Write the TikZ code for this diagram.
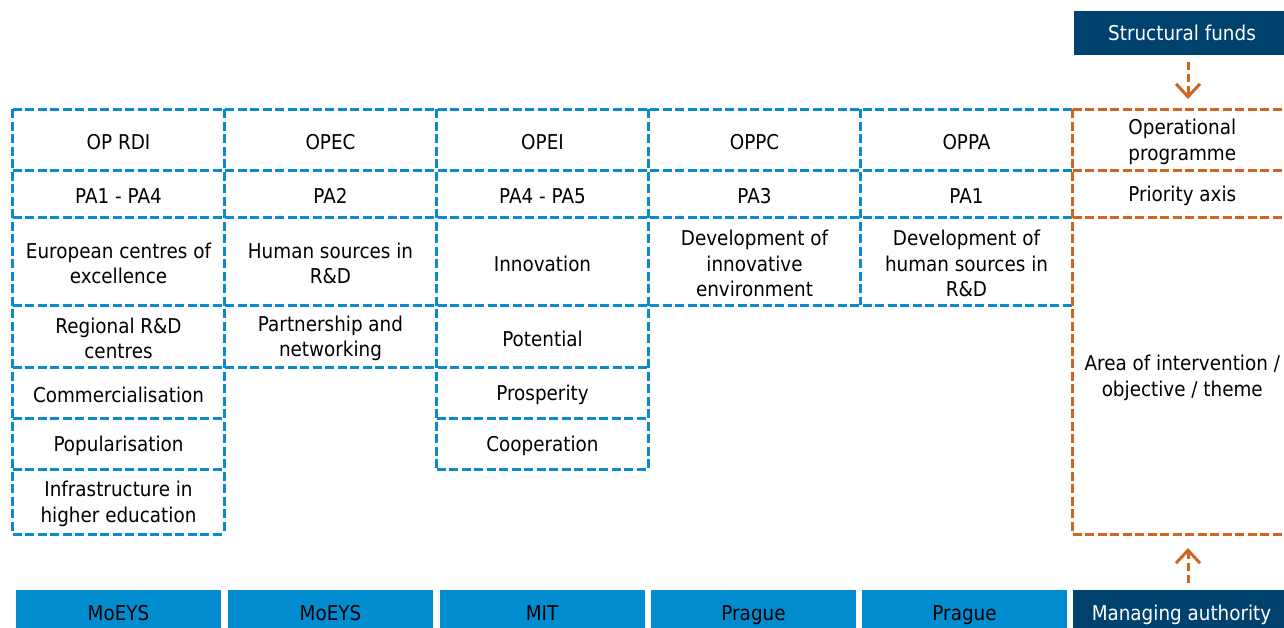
\documentclass[tikz,border=0pt]{standalone}
\usepackage{fontspec}
\setmainfont{DejaVu Sans}[FakeStretch=0.9]
\usetikzlibrary{arrows.meta}
\definecolor{bluedash}{HTML}{0A8AD0}
\definecolor{orng}{HTML}{D0651F}
\definecolor{lightfill}{HTML}{008CCE}
\definecolor{darkfill}{HTML}{00426E}
\tikzset{
  cell/.style={minimum width=212pt, inner sep=0pt, outer sep=0pt, align=center,
    font=\fontsize{20.4pt}{25.5pt}\selectfont, text=black},
  ocell/.style={cell, minimum width=219.5pt},
  gridshift/.style={transform canvas={yshift=2.5pt}},
  bline/.style={draw=bluedash, line width=3pt, dash pattern=on 9pt off 3.5pt, gridshift},
  oline/.style={bline, draw=orng},
  agency/.style={fill=lightfill, minimum width=205pt, minimum height=50pt,
    inner sep=0pt, outer sep=0pt, text height=15pt, text depth=5pt,
    font=\fontsize{20.4pt}{25.5pt}\selectfont, text=black},
  darkbox/.style={agency, fill=darkfill, text=white},
  oarrow/.style={draw=orng, line width=3pt, dash pattern=on 8pt off 4pt,
    -{Straight Barb[length=13pt,width=24pt,line width=3pt]}}
}
\begin{document}
\begin{tikzpicture}[x=1pt,y=-1pt]
\useasboundingbox (0,0) rectangle (1284,627);
% column 1 (text centres are 2.5px below the cell centres; the grid is shifted back up)
\node[cell, minimum height=61pt] (a1) at (118.5,142) {OP RDI};
\node[cell, minimum height=47pt] (a2) at (118.5,196) {PA1 - PA4};
\node[cell, minimum height=88pt] (a3) at (118.5,263.5) {European centres of\\excellence};
\node[cell, minimum height=62pt] (a4) at (118.5,338.5) {Regional R\&D\\centres};
\node[cell, minimum height=51pt] (a5) at (118.5,395) {Commercialisation};
\node[cell, minimum height=51pt] (a6) at (118.5,446) {Popularisation};
\node[cell, minimum height=65pt] (a7) at (118.5,504) {Infrastructure in\\higher education};
% column 2
\node[cell, minimum height=61pt] (b1) at (330.5,142) {OPEC};
\node[cell, minimum height=47pt] (b2) at (330.5,196) {PA2};
\node[cell, minimum height=88pt] (b3) at (330.5,263.5) {Human sources in\\R\&D};
\node[cell, minimum height=62pt] (b4) at (330.5,338.5) {Partnership and\\networking};
% column 3
\node[cell, minimum height=61pt] (c1) at (542.5,142) {OPEI};
\node[cell, minimum height=47pt] (c2) at (542.5,196) {PA4 - PA5};
\node[cell, minimum height=88pt] (c3) at (542.5,263.5) {Innovation};
\node[cell, minimum height=62pt] (c4) at (542.5,338.5) {Potential};
\node[cell, minimum height=51pt] (c5) at (542.5,395) {Prosperity};
\node[cell, minimum height=51pt] (c6) at (542.5,446) {Cooperation};
% column 4
\node[cell, minimum height=61pt] (d1) at (754.5,142) {OPPC};
\node[cell, minimum height=47pt] (d2) at (754.5,196) {PA3};
\node[cell, minimum height=88pt] (d3) at (754.5,263.5) {Development of\\innovative\\environment};
% column 5
\node[cell, minimum height=61pt] (e1) at (966.5,142) {OPPA};
\node[cell, minimum height=47pt] (e2) at (966.5,196) {PA1};
\node[cell, minimum height=88pt] (e3) at (966.5,263.5) {Development of\\human sources in\\R\&D};
% orange column
\node[ocell, minimum height=61pt] (op) at (1182.25,142) {Operational\\programme};
\node[ocell, minimum height=47pt] (pa) at (1182.25,196) {Priority axis};
\node[ocell, minimum height=317pt] (area) at (1182.25,378) {Area of intervention /\\objective / theme};
% blue grid: horizontal lines
\draw[bline] (a1.north west) -- (e1.north east);
\draw[bline] (a2.north west) -- (e2.north east);
\draw[bline] (a3.north west) -- (e3.north east);
\draw[bline] (a4.north west) -- (e3.south east);
\draw[bline] (a5.north west) -- (c4.south east);
\draw[bline] (a6.north west) -- (a5.south east);
\draw[bline] (c6.north west) -- (c6.north east);
\draw[bline] (a7.north west) -- (a6.south east);
\draw[bline] (c6.south west) -- (c6.south east);
\draw[bline] (a7.south west) -- (a7.south east);
% blue grid: vertical lines
\draw[bline] (a1.north west) -- (a7.south west);
\draw[bline] (a1.north east) -- (a7.south east);
\draw[bline] (b1.north east) -- (c6.south west);
\draw[bline] (c1.north east) -- (c6.south east);
\draw[bline] (d1.north east) -- (d3.south east);
% orange frame
\draw[oline] (op.north west) -- (area.south west);
\draw[oline] (op.north west) -- (op.north east);
\draw[oline] (pa.north west) -- (pa.north east);
\draw[oline] (area.north west) -- (area.north east);
\draw[oline] (area.south west) -- (area.south east);
% top box
\node[darkbox, minimum width=216pt, minimum height=44pt, text height=, text depth=] (sf) at (1182,33) {Structural funds};
% bottom boxes
\node[agency] (m1) at (118.5,615) {MoEYS};
\node[agency] (m2) at (330.5,615) {MoEYS};
\node[agency] (m3) at (542,615) {MIT};
\node[agency] (m4) at (753.5,615) {Prague};
\node[agency] (m5) at (964.5,615) {Prague};
\node[darkbox, minimum width=217pt] (ma) at (1181.5,615) {Managing authority};
% arrows
\coordinate (ax) at (1188,0);
\draw[oarrow, shorten <=7pt, shorten >=12.5pt] (sf.south -| ax) -- (op.north -| ax);
\draw[oarrow, shorten <=7pt, shorten >=11.5pt] (ma.north -| ax) -- (area.south -| ax);
\end{tikzpicture}
\end{document}
